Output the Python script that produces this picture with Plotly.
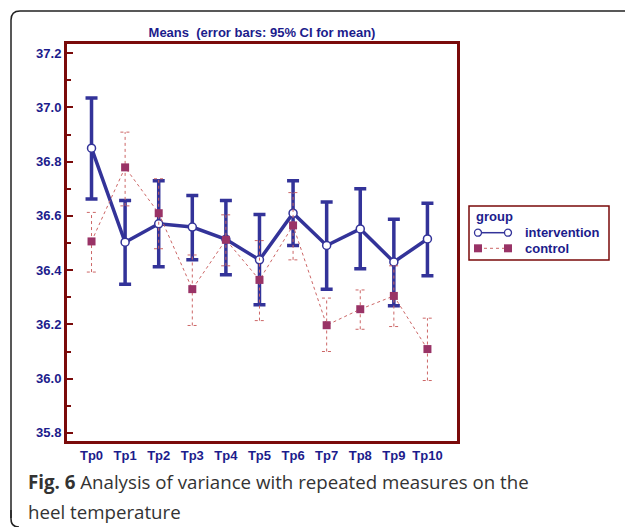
import plotly.graph_objects as go

categories = ["Tp0", "Tp1", "Tp2", "Tp3", "Tp4", "Tp5", "Tp6", "Tp7", "Tp8", "Tp9", "Tp10"]

intervention_mean = [36.85, 36.503, 36.571, 36.559, 36.514, 36.438, 36.610, 36.491, 36.552, 36.430, 36.515]
intervention_hi = [37.035, 36.657, 36.730, 36.675, 36.657, 36.605, 36.730, 36.651, 36.700, 36.588, 36.647]
intervention_lo = [36.662, 36.348, 36.413, 36.438, 36.383, 36.272, 36.491, 36.330, 36.405, 36.269, 36.379]

control_mean = [36.506, 36.779, 36.610, 36.330, 36.512, 36.364, 36.565, 36.197, 36.256, 36.305, 36.109]
control_hi = [36.613, 36.909, 36.737, 36.456, 36.604, 36.509, 36.686, 36.297, 36.327, 36.416, 36.223]
control_lo = [36.393, 36.637, 36.479, 36.196, 36.416, 36.214, 36.438, 36.100, 36.182, 36.192, 35.993]

y_ticks = [35.8, 36.0, 36.2, 36.4, 36.6, 36.8, 37.0, 37.2]

BLUE = "#333399"
MAG = "#993366"
DOT = "#cc6666"
NAVY = "#1c1c8c"
FRAME = "#7a0a0a"

W, H = 625, 527
L, R, T, B = 67, 457, 44, 441


def px(p):
    return (p - L) / (R - L)


def py(p):
    return (B - p) / (B - T)


xs = list(range(len(categories)))

fig = go.Figure()

# intervention
fig.add_trace(go.Scatter(
    x=xs, y=intervention_mean, mode="lines+markers",
    line=dict(color=BLUE, width=3.5),
    marker=dict(symbol="circle", size=8, color="white", line=dict(color=BLUE, width=1.5)),
    error_y=dict(type="data", symmetric=False,
                 array=[h - m for h, m in zip(intervention_hi, intervention_mean)],
                 arrayminus=[m - l for m, l in zip(intervention_mean, intervention_lo)],
                 color=BLUE, thickness=3.5, width=6),
    showlegend=False,
))

# control error bars (dotted)
cap = 0.14
ex, ey = [], []
for i, (lo, hi) in enumerate(zip(control_lo, control_hi)):
    ex += [i, i, None, i - cap, i + cap, None, i - cap, i + cap, None]
    ey += [lo, hi, None, hi, hi, None, lo, lo, None]
fig.add_trace(go.Scatter(x=ex, y=ey, mode="lines",
                         line=dict(color=DOT, width=1, dash="dot"),
                         showlegend=False, hoverinfo="skip"))

fig.add_trace(go.Scatter(
    x=xs, y=control_mean, mode="lines+markers",
    line=dict(color=DOT, width=1, dash="dot"),
    marker=dict(symbol="square", size=8, color=MAG),
    showlegend=False,
))

shapes = []
# outer rounded frame
r = 9
path = (f"M {px(11)} {py(518)} L {px(11)} {py(11 + r)} Q {px(11)} {py(11)} {px(11 + r)} {py(11)} "
        f"L {px(640)} {py(11)}")
shapes.append(dict(type="path", xref="paper", yref="paper", path=path,
                   line=dict(color="#222222", width=1.5)))
path2 = f"M {px(11)} {py(510)} L {px(11)} {py(519)} Q {px(11)} {py(527)} {px(19)} {py(527)}"
shapes.append(dict(type="path", xref="paper", yref="paper", path=path2,
                   line=dict(color="#222222", width=1.5)))

# legend box
shapes.append(dict(type="rect", xref="paper", yref="paper",
                   x0=px(469), x1=px(609), y0=py(206), y1=py(260),
                   line=dict(color=FRAME, width=1.5), fillcolor="white"))
# legend samples
ly1, ly2 = 232.7, 248.3
shapes.append(dict(type="line", xref="paper", yref="paper", x0=px(478), x1=px(508),
                   y0=py(ly1), y1=py(ly1), line=dict(color=BLUE, width=1.5)))
shapes.append(dict(type="line", xref="paper", yref="paper", x0=px(478), x1=px(508),
                   y0=py(ly2), y1=py(ly2), line=dict(color=DOT, width=1, dash="dot")))
for cx in (478, 508):
    shapes.append(dict(type="circle", xref="paper", yref="paper",
                       xsizemode="pixel", ysizemode="pixel",
                       xanchor=px(cx), yanchor=py(ly1),
                       x0=-3.5, x1=3.5, y0=-3.5, y1=3.5,
                       line=dict(color=BLUE, width=1.3), fillcolor="white"))
    shapes.append(dict(type="rect", xref="paper", yref="paper",
                       xsizemode="pixel", ysizemode="pixel",
                       xanchor=px(cx), yanchor=py(ly2),
                       x0=-4, x1=4, y0=-4, y1=4,
                       line=dict(width=0), fillcolor=MAG))

annotations = [
    dict(text="group", x=px(474), y=py(216.5), xref="paper", yref="paper",
         xanchor="left", yanchor="middle", showarrow=False,
         font=dict(family="Liberation Sans, Arial", size=13, color=NAVY, weight="bold")),
    dict(text="intervention", x=px(523), y=py(ly1), xref="paper", yref="paper",
         xanchor="left", yanchor="middle", showarrow=False,
         font=dict(family="Liberation Sans, Arial", size=13, color=NAVY, weight="bold")),
    dict(text="control", x=px(523), y=py(ly2), xref="paper", yref="paper",
         xanchor="left", yanchor="middle", showarrow=False,
         font=dict(family="Liberation Sans, Arial", size=13, color=NAVY, weight="bold")),
    dict(text="<b>Fig. 6</b> Analysis of variance with repeated measures on the",
         x=px(26), y=py(482), xref="paper", yref="paper",
         xanchor="left", yanchor="middle", showarrow=False,
         font=dict(family="Open Sans", size=18.7, color="#333333")),
    dict(text="heel temperature",
         x=px(26), y=py(511), xref="paper", yref="paper",
         xanchor="left", yanchor="middle", showarrow=False,
         font=dict(family="Open Sans", size=18.7, color="#333333")),
]

fig.update_layout(
    width=W, height=H,
    margin=dict(l=L, r=W - R, t=T, b=H - B),
    paper_bgcolor="white", plot_bgcolor="white",
    title=dict(text="Means  (error bars: 95% CI for mean)", x=0.5, xref="paper",
               y=1 - 32 / H, yanchor="middle", xanchor="center",
               font=dict(family="Liberation Sans, Arial", size=13, color=NAVY, weight="bold")),
    shapes=shapes,
    annotations=annotations,
    showlegend=False,
)

fig.update_xaxes(
    range=[-0.73, 10.88], tickvals=xs, ticktext=categories,
    showgrid=False, zeroline=False, showline=True, mirror=True,
    linecolor=FRAME, linewidth=3, ticks="",
    tickfont=dict(family="Liberation Sans, Arial", size=13, color=NAVY, weight="bold"),
)
fig.update_yaxes(
    range=[35.770, 37.234], tickvals=y_ticks, ticktext=[f"{v:.1f}" for v in y_ticks],
    showgrid=False, zeroline=False, showline=True, mirror=True,
    linecolor=FRAME, linewidth=3, ticks="inside", ticklen=6, tickwidth=1.5, tickcolor=FRAME,
    minor=dict(tickvals=[35.9, 36.1, 36.3, 36.5, 36.7, 36.9, 37.1], ticks="inside",
               ticklen=4, tickwidth=1.5, tickcolor=FRAME),
    tickfont=dict(family="Liberation Sans, Arial", size=13, color=NAVY, weight="bold"),
)

fig.write_html(
    "out.html",
    config={"displayModeBar": False},
    post_script="document.body.style.margin='0';document.body.style.overflow='hidden';",
)
